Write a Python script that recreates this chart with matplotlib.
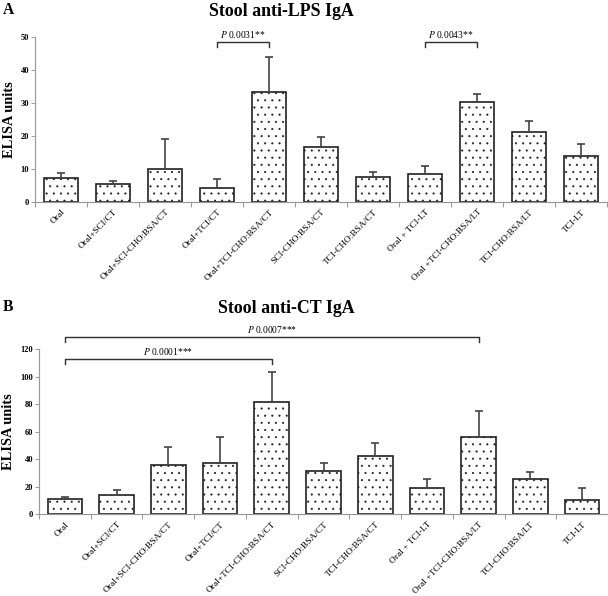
import matplotlib
matplotlib.use("Agg")
import matplotlib.pyplot as plt
import numpy as np

groups = ["Oral", "Oral+SCI/CT", "Oral+SCI-CHO:BSA/CT", "Oral+TCI/CT",
          "Oral+TCI-CHO:BSA/CT", "SCI-CHO:BSA/CT", "TCI-CHO:BSA/CT",
          "Oral + TCI-LT", "Oral +TCI-CHO:BSA/LT", "TCI-CHO:BSA/LT", "TCI-LT"]

lps_mean = [7.4, 5.35, 10.1, 4.3, 33.2, 16.8, 7.5, 8.4, 30.3, 21.2, 13.9]
lps_sd = [1.5, 0.9, 8.9, 2.6, 10.8, 2.8, 1.6, 2.6, 2.4, 3.2, 3.6]

ct_mean = [10.9, 14.0, 36.0, 37.5, 81.5, 31.3, 42.2, 19.1, 56.0, 25.5, 10.6]
ct_sd = [1.7, 3.7, 13.0, 18.7, 21.8, 6.2, 9.9, 6.6, 19.1, 5.3, 8.8]

# (from group, to group, bracket height, leg bottom, label)
lps_brackets = [(3, 4, 48.5, 47.0, "0.0031**"), (7, 8, 48.5, 47.0, "0.0043**")]
ct_brackets = [(0, 8, 128.7, 125.0, "0.0007***"), (0, 4, 113.2, 109.3, "0.0001***")]

DPI = 86
plt.rcParams["font.family"] = ["Liberation Serif", "DejaVu Serif"]
plt.rcParams["mathtext.fontset"] = "stix"
plt.rcParams["hatch.linewidth"] = 0.55

fig = plt.figure(figsize=(608 / DPI, 596 / DPI), dpi=DPI)


def panel(ax, means, sds, ymax, ystep, brackets, text_off):
    x = np.arange(len(groups))
    ax.bar(x, means, width=0.67, color="white", edgecolor="#222222",
           linewidth=1.4, hatch="..", zorder=2)
    ax.errorbar(x, means, yerr=[np.zeros(len(sds)), sds], fmt="none",
                ecolor="#444444", elinewidth=1.4, capsize=3.5, capthick=1.4,
                zorder=3)
    ax.set_xlim(-0.5, len(groups) - 0.5)
    ax.set_ylim(0, ymax)
    ax.set_yticks(np.arange(0, ymax + 1, ystep))
    ax.set_xticks(np.arange(len(groups) + 1) - 0.5)
    ax.set_xticklabels([])
    ax.set_xticks(x, minor=True)
    ax.set_xticklabels(groups, minor=True, rotation=46, ha="right",
                       rotation_mode="anchor", fontsize=7.9)
    ax.tick_params(axis="x", which="minor", length=0, pad=5)
    ax.tick_params(axis="x", which="major", length=4, color="#999999")
    ax.tick_params(axis="y", length=3, color="#999999", labelsize=7, pad=2)
    for lab in ax.get_yticklabels():
        lab.set_fontweight("bold")
    for s in ["top", "right"]:
        ax.spines[s].set_visible(False)
    for s in ["left", "bottom"]:
        ax.spines[s].set_color("#999999")
        ax.spines[s].set_linewidth(1.0)
    ax.set_ylabel("ELISA units", fontsize=12, fontweight="bold", labelpad=4)

    for a, b, h, leg, txt in brackets:
        ax.plot([a, a, b, b], [leg, h, h, leg], color="#333333", lw=1.2,
                clip_on=False, zorder=4)
        ax.text((a + b) / 2, h + text_off, r"$\it{P}$ " + txt, ha="center",
                va="bottom", fontsize=8, clip_on=False)


ax1 = fig.add_axes([35 / 608, 1 - 202 / 596, 572 / 608, 165 / 596])
panel(ax1, lps_mean, lps_sd, 50, 10, lps_brackets, 0.6)

ax2 = fig.add_axes([39 / 608, 1 - 514.3 / 596, 569 / 608, 165 / 596])
panel(ax2, ct_mean, ct_sd, 120, 20, ct_brackets, 1.5)

fig.text(281 / 608, 1 - 11 / 596, "Stool anti-LPS IgA", fontsize=15,
         fontweight="bold", ha="center", va="center")
fig.text(286 / 608, 1 - 309 / 596, "Stool anti-CT IgA", fontsize=15,
         fontweight="bold", ha="center", va="center")

fig.text(3 / 608, 1 - 10 / 596, "A", fontsize=13, fontweight="bold",
         va="center", ha="left")
fig.text(3 / 608, 1 - 307 / 596, "B", fontsize=13, fontweight="bold",
         va="center", ha="left")

fig.savefig("out.png", dpi=DPI)
